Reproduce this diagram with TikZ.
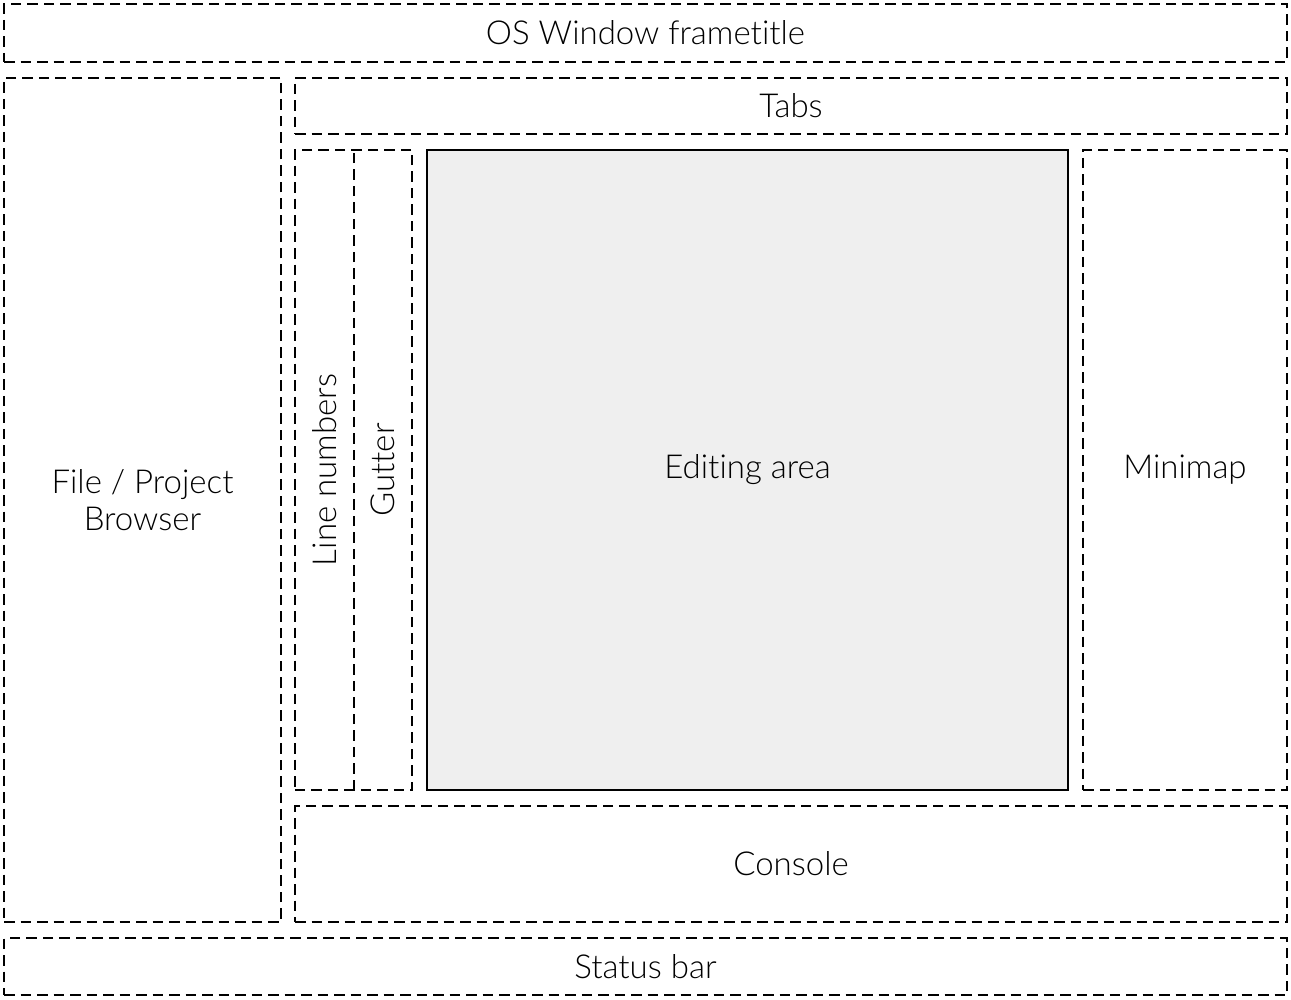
\documentclass[tikz,border=0pt]{standalone}
\usepackage{fontspec}
\IfFontExistsTF{Lato Light}{\setmainfont{Lato Light}[RawFeature={-liga}]}{\setmainfont{Lato}[RawFeature={-liga}]}
\begin{document}
\begin{tikzpicture}[x=1pt,y=-1pt,
  dashline/.style={draw=black, line width=2pt, dash pattern=on 10.5pt off 6pt},
  panel/.style={dashline, inner sep=0pt, align=center,
    font=\fontsize{33}{37}\selectfont},
  bare/.style={inner sep=0pt, align=center, font=\fontsize{33}{37}\selectfont},
  editbox/.style={draw=black, line width=2pt, fill=editgray, inner sep=0pt, align=center,
    font=\fontsize{33}{37}\selectfont}]
\definecolor{editgray}{HTML}{EFEFEF}
\useasboundingbox (0,0) rectangle (1291,1000);
\node[panel, minimum width=1283pt, minimum height=58pt] (title) at (645.5,33) {OS Window frametitle};
\node[panel, minimum width=277pt, minimum height=844pt] (browser) at (142.5,500) {File / Project\\Browser};
\node[panel, minimum width=992pt, minimum height=56pt] (tabs) at (791,106) {Tabs};
\node[bare, rotate=90, minimum width=640pt, minimum height=59pt] (linenums) at (324.5,470) {Line numbers};
\node[bare, rotate=90, minimum width=640pt, minimum height=58pt] (gutter) at (383,470) {Gutter};
\draw[dashline] (linenums.north west) -- (gutter.south west) -- (gutter.south east) -- (linenums.north east) -- cycle;
\draw[dashline] (linenums.south west) -- (linenums.south east);
\node[editbox, minimum width=641pt, minimum height=640pt] (editor) at (747.5,470) {Editing area};
\node[panel, minimum width=204pt, minimum height=640pt] (minimap) at (1185,470) {Minimap};
\node[panel, minimum width=992pt, minimum height=116pt] (console) at (791,864) {Console};
\node[panel, minimum width=1283pt, minimum height=57pt] (status) at (645.5,966.5) {Status bar};
\end{tikzpicture}
\end{document}
